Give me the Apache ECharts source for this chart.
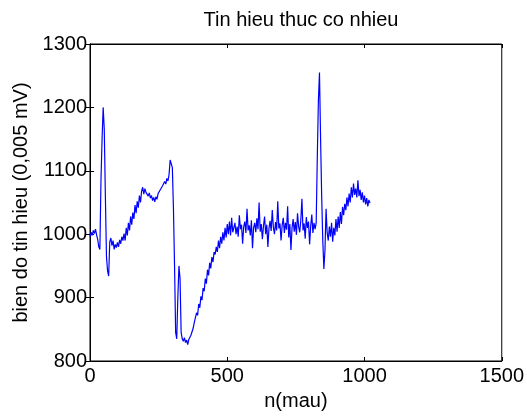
<!DOCTYPE html>
<html>
<head>
<meta charset="utf-8">
<title>Tin hieu thuc co nhieu</title>
<script src="https://cdn.jsdelivr.net/npm/echarts@6/dist/echarts.min.js"></script>
<style>
    html, body { margin: 0; padding: 0; background: #fff; }
    #main { width: 527px; height: 416px; }
</style>
</head>
<body>
<div id="main"></div>
<script type="text/javascript">
    // du lieu doc tu hinh: moi diem cach nhau 4 mau
    var sampleStep = 4;
    var signal = [
        996, 1003, 998, 1006, 1001, 1008, 999, 992, 980, 976,
        1085, 1150, 1200, 1165, 1060, 965, 942, 934,
        988, 994, 982, 990, 976, 984, 979, 987, 980, 991, 985, 996, 990,
        1001, 990, 1010, 998, 1018, 1006, 1028, 1015, 1034, 1024, 1046, 1033, 1052, 1042, 1061, 1050,
        1068, 1074, 1063, 1072, 1066, 1069, 1060, 1065, 1057, 1061,
        1053, 1058, 1051, 1059, 1055, 1064, 1061, 1070, 1067, 1076,
        1073, 1083, 1079, 1088, 1084, 1094,
        1117, 1120, 1105, 1040, 950, 845, 835,
        900, 950, 930, 845, 835, 831, 837, 829, 833, 826, 834, 831, 841, 839,
        852, 861, 858, 876, 872, 890, 884, 902, 896, 915,
        910, 930, 922, 944, 935, 955, 946, 964, 956, 972,
        968, 980, 972, 990, 978, 996, 985, 1003, 990, 1010,
        995, 1016, 1000, 1020, 998, 1026, 1003,
        1005, 1018, 1000, 1012, 996, 1030, 1008, 1015, 985, 1012,
        1020, 1002, 1040, 1006, 1014, 998, 1022, 978, 1010, 1018,
        1003, 1025, 1008, 1050, 1004, 1016, 992, 1013, 1028, 1000,
        1015, 980, 1009, 1021, 1005, 1038, 1011, 1000, 1019, 1006,
        1052, 1009, 1017, 990, 1014, 1026, 1002, 1018, 1007, 1044,
        995, 1016, 975, 1010, 1024, 1004, 1019, 999, 1033, 1012,
        1003, 1022, 1056, 1006, 1017, 993, 1027, 1010, 1020, 984,
        1013, 1031, 1002, 1018, 1008,
        1018, 1120, 1210, 1255, 1150, 1060, 990, 945, 975, 1040,
        1002, 990, 1012, 996, 1018, 988, 1010, 998, 1024, 1004,
        1028, 1010, 1035, 1016, 1043, 1030, 1048, 1038, 1058, 1044,
        1064, 1050, 1074, 1058, 1080, 1062, 1072, 1058, 1085, 1060,
        1070, 1054, 1066, 1050, 1061, 1047, 1057, 1044, 1054, 1049
    ];

    var points = [];
    for (var i = 0; i < signal.length; i++) {
        points.push([i * sampleStep, signal[i]]);
    }

    var font = 'Liberation Sans, Arial, sans-serif';
    var plain = function (v) { return String(v); };
    var myChart = echarts.init(document.getElementById('main'));

    var option = {
        animation: false,
        backgroundColor: '#fff',
        title: {
            text: 'Tin hieu thuc co nhieu',
            left: 296,
            top: 5,
            textAlign: 'center',
            textStyle: { fontFamily: font, fontSize: 20, fontWeight: 'normal', color: '#000' }
        },
        grid: {
            left: 90, right: 25, top: 44, bottom: 50,
            show: true, borderColor: '#000', borderWidth: 1
        },
        xAxis: [{
            type: 'value',
            min: 0, max: 1500, interval: 500,
            name: 'n(mau)',
            nameLocation: 'middle',
            nameGap: 30,
            nameTextStyle: { fontFamily: font, fontSize: 20, color: '#000' },
            axisLine: { lineStyle: { color: '#000' } },
            axisTick: { inside: true, length: 4, lineStyle: { color: '#000' } },
            axisLabel: { fontFamily: font, fontSize: 20, color: '#000', margin: 5, formatter: plain },
            splitLine: { show: false }
        }, {
            type: 'value', position: 'top',
            min: 0, max: 1500, interval: 500,
            axisLine: { lineStyle: { color: '#000' } },
            axisTick: { inside: true, length: 4, lineStyle: { color: '#000' } },
            axisLabel: { show: false },
            splitLine: { show: false }
        }],
        yAxis: [{
            type: 'value',
            min: 800, max: 1300, interval: 100,
            name: 'bien do tin hieu (0,005 mV)',
            nameLocation: 'middle',
            nameGap: 54,
            nameTextStyle: { fontFamily: font, fontSize: 20, color: '#000' },
            axisLine: { show: true, lineStyle: { color: '#000' } },
            axisTick: { show: true, inside: true, length: 4, lineStyle: { color: '#000' } },
            axisLabel: { fontFamily: font, fontSize: 20, color: '#000', margin: 3, formatter: plain },
            splitLine: { show: false }
        }, {
            type: 'value', position: 'right',
            min: 800, max: 1300, interval: 100,
            axisLine: { show: true, lineStyle: { color: '#000' } },
            axisTick: { show: true, inside: true, length: 4, lineStyle: { color: '#000' } },
            axisLabel: { show: false },
            splitLine: { show: false }
        }],
        series: [{
            name: 'tin hieu',
            type: 'line',
            data: points,
            showSymbol: false,
            lineStyle: { color: '#0000ff', width: 1.2 },
            itemStyle: { color: '#0000ff' }
        }]
    };

    myChart.setOption(option);
</script>
</body>
</html>
